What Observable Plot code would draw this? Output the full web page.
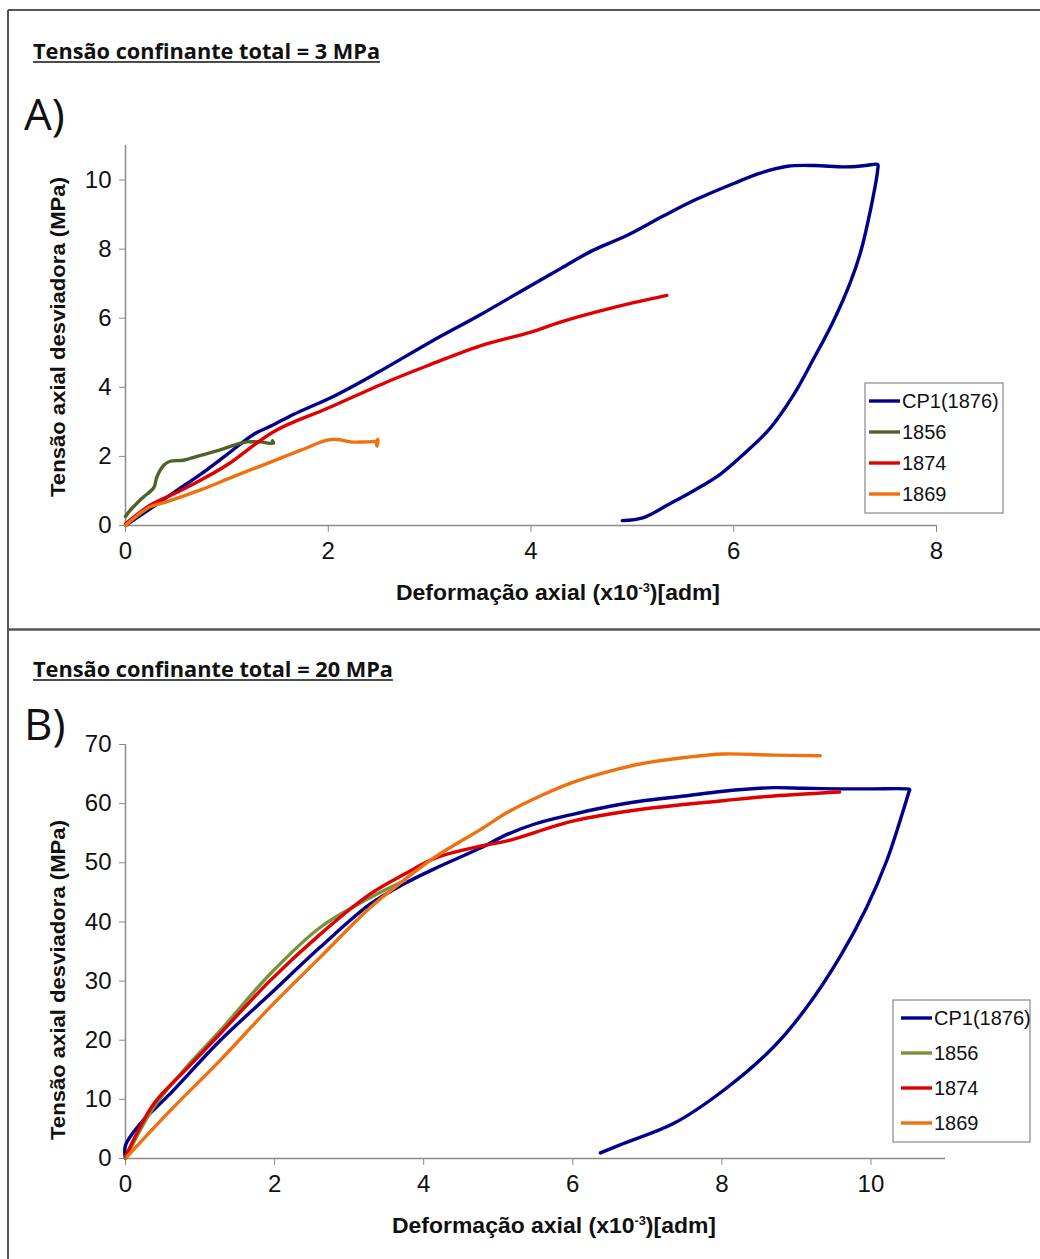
<!DOCTYPE html>
<html>
<head>
<meta charset="utf-8">
<script src="https://cdn.jsdelivr.net/npm/d3@7"></script>
<script src="https://cdn.jsdelivr.net/npm/@observablehq/plot@0.6"></script>
<style>
  html, body { margin: 0; padding: 0; background: #fff; }
  #root { position: relative; width: 1040px; height: 1259px; overflow: hidden; background: #fff; }
  svg.overlay { position: absolute; left: 0; top: 0; pointer-events: none; }
</style>
</head>
<body>
<div id="root"></div>
<script>
// ---------- DATA ----------
const seriesNames = ["CP1(1876)", "1856", "1874", "1869"];
const colorsA = ["#00008c", "#4f6228", "#e00000", "#f07010"];
const colorsB = ["#00008c", "#77933c", "#e00000", "#f07010"];

const titleA = "Tensão confinante total = 3 MPa";
const titleB = "Tensão confinante total = 20 MPa";
const yLabel = "Tensão axial desviadora (MPa)";
const xLabelMain = "Deformação  axial (x10";
const xLabelSup = "-3";
const xLabelEnd = ")[adm]";

const ticksAX = [0, 2, 4, 6, 8];
const ticksAY = [0, 2, 4, 6, 8, 10];
const ticksBX = [0, 2, 4, 6, 8, 10];
const ticksBY = [0, 10, 20, 30, 40, 50, 60, 70];

// Panel A (3 MPa)
const aCp1X = [0, 0.1, 0.25, 0.5, 0.75, 1.0, 1.27, 1.45, 1.66, 2.06, 2.5, 3.0, 3.5, 4.0, 4.3, 4.6, 4.95, 5.3, 5.6, 6.0, 6.26, 6.53, 6.8, 7.1, 7.3, 7.42, 7.42, 7.35, 7.25, 7.15, 6.98, 6.79, 6.59, 6.36, 6.1, 5.87, 5.6, 5.37, 5.11, 4.9];
const aCp1Y = [0, 0.2, 0.5, 1.0, 1.5, 2.05, 2.65, 2.9, 3.22, 3.75, 4.45, 5.3, 6.1, 6.95, 7.45, 7.95, 8.4, 8.95, 9.4, 9.9, 10.2, 10.4, 10.42, 10.38, 10.42, 10.45, 10.3, 9.15, 7.9, 7.04, 5.9, 4.84, 3.78, 2.82, 2.07, 1.49, 1.0, 0.63, 0.23, 0.14];

const a1856X = [0, 0.05, 0.115, 0.18, 0.28, 0.31, 0.38, 0.44, 0.57, 0.74, 0.9, 1.13, 1.2, 1.33, 1.46, 1.45];
const a1856Y = [0.26, 0.45, 0.65, 0.83, 1.1, 1.41, 1.75, 1.86, 1.89, 2.03, 2.16, 2.38, 2.42, 2.42, 2.38, 2.45];

const a1874X = [0, 0.25, 0.5, 0.74, 1.0, 1.47, 2.0, 2.59, 3.0, 3.5, 4.0, 4.29, 4.8, 5.34];
const a1874Y = [0.05, 0.6, 0.95, 1.31, 1.75, 2.73, 3.4, 4.17, 4.65, 5.2, 5.6, 5.89, 6.3, 6.66];

const a1869X = [0, 0.1, 0.25, 0.41, 0.74, 1.07, 1.4, 1.73, 1.99, 2.09, 2.22, 2.39, 2.47, 2.48, 2.49, 2.47];
const a1869Y = [0, 0.25, 0.55, 0.69, 1.03, 1.42, 1.8, 2.18, 2.47, 2.49, 2.42, 2.42, 2.42, 2.3, 2.5, 2.4];

// Panel B (20 MPa)
const bCp1X = [0, 0, 0.2, 0.6, 1.27, 1.94, 2.61, 3.28, 3.73, 4.18, 4.76, 5.12, 5.5, 6.0, 6.4, 6.9, 7.5, 8.02, 8.69, 9.1, 9.58, 10.0, 10.49, 10.52, 10.51, 10.43, 10.21, 9.94, 9.58, 9.14, 8.69, 8.02, 7.35, 6.68, 6.37];
const bCp1Y = [0, 2.24, 5.9, 10.96, 19.95, 27.8, 35.7, 43.0, 46.4, 49.2, 52.5, 54.8, 56.6, 58.2, 59.3, 60.4, 61.3, 62.1, 62.7, 62.6, 62.5, 62.5, 62.5, 62.4, 62.0, 58.7, 50.3, 42.4, 34.0, 25.6, 18.8, 11.5, 5.9, 2.53, 0.95];

const b1856X = [0, 0.38, 0.8, 1.27, 1.94, 2.61, 3.28, 3.75];
const b1856Y = [0, 8.7, 15.2, 21.6, 31.2, 39.06, 44.1, 47.0];

const b1874X = [0, 0.38, 0.8, 1.27, 1.94, 2.61, 3.28, 3.73, 4.18, 4.76, 5.12, 6.0, 6.9, 8.02, 8.69, 9.58];
const b1874Y = [0.3, 9.27, 14.9, 21.1, 30.07, 37.9, 44.7, 48.0, 50.9, 52.8, 53.7, 57.05, 59.0, 60.5, 61.3, 61.98];

const b1869X = [0.02, 0.6, 1.27, 1.94, 2.61, 3.28, 3.73, 4.18, 4.76, 5.12, 5.6, 6.0, 6.5, 6.9, 7.5, 8.02, 8.69, 9.32];
const b1869Y = [0.3, 8.1, 16.6, 25.6, 34.0, 42.4, 47.0, 51.2, 55.6, 58.5, 61.5, 63.6, 65.5, 66.7, 67.8, 68.4, 68.2, 68.1];

// ---------- BUILD ----------
function rows(name, xs, ys) { return xs.map((x, i) => ({serie: name, x, y: ys[i]})); }

const dataA = [
  rows(seriesNames[0], aCp1X, aCp1Y),
  rows(seriesNames[1], a1856X, a1856Y),
  rows(seriesNames[2], a1874X, a1874Y),
  rows(seriesNames[3], a1869X, a1869Y)
];
const dataB = [
  rows(seriesNames[0], bCp1X, bCp1Y),
  rows(seriesNames[1], b1856X, b1856Y),
  rows(seriesNames[2], b1874X, b1874Y),
  rows(seriesNames[3], b1869X, b1869Y)
];

const root = document.getElementById("root");
const axisGray = "#8a8a8a";
const tickFont = "'Liberation Sans', Arial, sans-serif";

function makePanel(data, colors, xDomain, yDomain, xTicks, yTicks, dims) {
  const marks = [
    Plot.ruleX([0], {stroke: axisGray, strokeWidth: 1.5}),
    Plot.ruleY([0], {stroke: axisGray, strokeWidth: 1.5}),
    Plot.axisX({ticks: xTicks, tickSize: 7, tickPadding: 9, stroke: axisGray, fill: "#111", label: null, fontSize: 24, tickFormat: d => String(d)}),
    Plot.axisY({ticks: yTicks, tickSize: 6, tickPadding: 8, stroke: axisGray, fill: "#111", label: null, fontSize: 24, tickFormat: d => String(d)})
  ];
  data.forEach((d, i) => {
    marks.push(Plot.line(d, {x: "x", y: "y", stroke: colors[i], strokeWidth: 3.4, strokeLinejoin: "round", strokeLinecap: "round", curve: "catmull-rom"}));
  });
  const chart = Plot.plot({
    width: 1040,
    height: dims.height,
    marginLeft: dims.ml, marginRight: dims.mr, marginTop: dims.mt, marginBottom: dims.mb,
    x: {domain: xDomain},
    y: {domain: yDomain},
    style: {fontFamily: tickFont, fontSize: "24px", background: "transparent", overflow: "visible", color: "#111"},
    marks
  });
  chart.style.position = "absolute";
  chart.style.left = "0px";
  chart.style.top = dims.top + "px";
  root.appendChild(chart);
}

// Panel A: x 0..8 -> 125..936, y 0..11 -> 525..145
makePanel(dataA, colorsA, [0, 8], [0, 11], ticksAX, ticksAY, {top: 0, height: 629, ml: 125, mr: 104, mt: 145, mb: 104});
// Panel B: x 0..11 -> 125..945, y 0..70 -> 1158..744
makePanel(dataB, colorsB, [0, 11], [0, 70], ticksBX, ticksBY, {top: 630, height: 629, ml: 125, mr: 95, mt: 114, mb: 101});

// ---------- OVERLAY (frames, titles, labels, legends) ----------
const NS = "http://www.w3.org/2000/svg";
const ov = document.createElementNS(NS, "svg");
ov.setAttribute("class", "overlay");
ov.setAttribute("width", 1040);
ov.setAttribute("height", 1259);
root.appendChild(ov);

function el(tag, attrs, text) {
  const e = document.createElementNS(NS, tag);
  for (const k in attrs) e.setAttribute(k, attrs[k]);
  if (text != null) e.textContent = text;
  ov.appendChild(e);
  return e;
}

// frames
el("line", {x1: 8, y1: 10, x2: 1040, y2: 10, stroke: "#555", "stroke-width": 2});
el("line", {x1: 8, y1: 10, x2: 8, y2: 1259, stroke: "#555", "stroke-width": 2});
el("line", {x1: 8, y1: 629.5, x2: 1040, y2: 629.5, stroke: "#555", "stroke-width": 2.5});

const titleFont = "'Open Sans', 'Noto Sans', sans-serif";
function title(txt, x, y, w) {
  el("text", {x, y, "font-family": titleFont, "font-weight": 700, "font-size": 20.5, fill: "#111", textLength: w, lengthAdjust: "spacingAndGlyphs"}, txt);
  el("line", {x1: x, y1: y + 3, x2: x + w, y2: y + 3, stroke: "#111", "stroke-width": 1.6});
}
title(titleA, 33, 59, 347);
title(titleB, 33, 677, 360);

el("text", {x: 24, y: 130, "font-family": titleFont, "font-size": 44, fill: "#111"}, "A)");
el("text", {x: 24, y: 740, "font-family": titleFont, "font-size": 44, fill: "#111"}, "B)");

function yLab(cy) {
  el("text", {x: 0, y: 0, transform: `translate(65,${cy}) rotate(-90)`, "text-anchor": "middle", "font-family": tickFont, "font-weight": 700, "font-size": 21, fill: "#111", textLength: 320, lengthAdjust: "spacingAndGlyphs"}, yLabel);
}
yLab(337);
yLab(980);

function xLab(cx, by) {
  const t = el("text", {x: cx, y: by, "text-anchor": "middle", "font-family": tickFont, "font-weight": 700, "font-size": 21.5, fill: "#111", textLength: 324, lengthAdjust: "spacingAndGlyphs"});
  const t1 = document.createElementNS(NS, "tspan"); t1.textContent = xLabelMain; t.appendChild(t1);
  const t2 = document.createElementNS(NS, "tspan"); t2.textContent = xLabelSup; t2.setAttribute("font-size", 12); t2.setAttribute("dy", -8); t.appendChild(t2);
  const t3 = document.createElementNS(NS, "tspan"); t3.textContent = xLabelEnd; t3.setAttribute("dy", 8); t.appendChild(t3);
}
xLab(558, 600);
xLab(554, 1233);

function legend(colors, x0, y0, x1, y1, rowYs, swX0, swX1) {
  el("rect", {x: x0, y: y0, width: x1 - x0, height: y1 - y0, fill: "#fff", stroke: "#888", "stroke-width": 1.2});
  seriesNames.forEach((n, i) => {
    el("line", {x1: swX0, y1: rowYs[i], x2: swX1, y2: rowYs[i], stroke: colors[i], "stroke-width": 3.4});
    el("text", {x: swX1 + 2, y: rowYs[i] + 7, "font-family": tickFont, "font-size": 20, fill: "#111"}, n);
  });
}
legend(colorsA, 865, 383, 1003, 513, [401, 432, 463, 494], 869, 900);
legend(colorsB, 893, 1000, 1030, 1142, [1018, 1053, 1088, 1123], 901, 932);
</script>
</body>
</html>
